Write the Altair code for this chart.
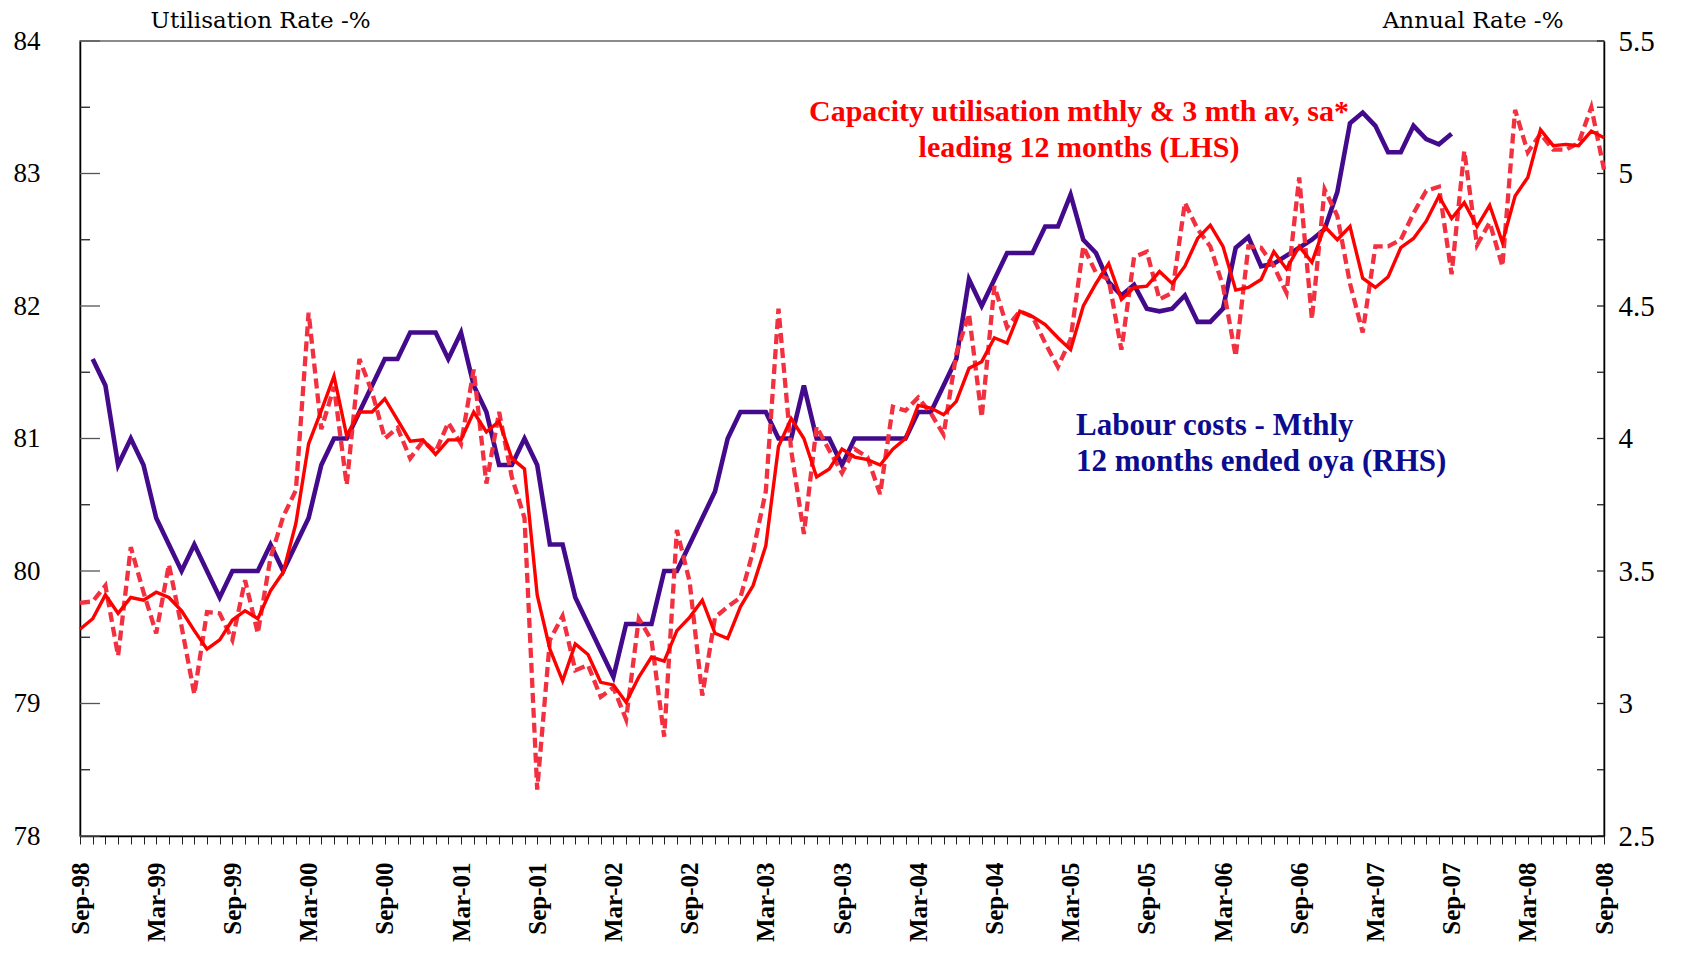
import altair as alt
import pandas as pd

# ---------------- data ----------------
months = [d.strftime("%b-%y") for d in pd.date_range("1998-09-01", "2008-09-01", freq="MS")]

# Capacity utilisation, monthly (dashed) Sep-98 .. Sep-08, LHS
cap_monthly = [
    79.76, 79.77, 79.89, 79.36,
    80.18, 79.84, 79.53, 80.05, 79.58, 79.07, 79.69, 79.68, 79.48, 79.93, 79.53, 80.10,
    80.41, 80.61, 81.95, 81.07, 81.39, 80.65, 81.60, 81.35, 81.00, 81.08, 80.85, 80.98,
    80.90, 81.12, 80.96, 81.52, 80.66, 81.20, 80.71, 80.40, 78.35, 79.48, 79.66, 79.25,
    79.29, 79.05, 79.12, 78.88, 79.64, 79.48, 78.75, 80.31, 79.92, 79.06, 79.65, 79.73,
    79.80, 80.15, 80.60, 81.98, 80.91, 80.28, 81.09, 80.91, 80.74, 80.92, 80.86, 80.58,
    81.24, 81.21, 81.31, 81.19, 81.03, 81.64, 81.94, 81.16, 82.15, 81.84, 81.96, 81.92,
    81.72, 81.54, 81.75, 82.45, 82.25, 82.20, 81.67, 82.37, 82.41, 82.05, 82.10, 82.78,
    82.58, 82.45, 82.15, 81.62, 82.45, 82.44, 82.30, 82.10, 82.97, 81.90, 82.88, 82.68,
    82.17, 81.80, 82.45, 82.45, 82.50, 82.70, 82.87, 82.90, 82.24, 83.17, 82.46, 82.63,
    82.30, 83.48, 83.16, 83.30, 83.18, 83.18, 83.23, 83.50, 83.03,
]

# Capacity utilisation, 3 month average (solid) Sep-98 .. Sep-08, LHS
cap_3mav = [
    79.56, 79.64, 79.82, 79.68,
    79.80, 79.78, 79.84, 79.80, 79.70, 79.55, 79.41, 79.48, 79.63, 79.70, 79.64, 79.85,
    79.99, 80.36, 80.96, 81.21, 81.47, 81.02, 81.20, 81.20, 81.30, 81.14, 80.98, 80.99,
    80.88, 80.99, 80.99, 81.20, 81.05, 81.13, 80.85, 80.77, 79.82, 79.41, 79.17, 79.45,
    79.37, 79.16, 79.14, 79.01, 79.20, 79.35, 79.32, 79.55, 79.65, 79.78, 79.53, 79.49,
    79.73, 79.89, 80.19, 80.94, 81.15, 81.00, 80.71, 80.77, 80.92, 80.86, 80.84, 80.80,
    80.92, 81.00, 81.25, 81.23, 81.18, 81.28, 81.53, 81.58, 81.76, 81.72, 81.96, 81.92,
    81.86, 81.76, 81.67, 82.00, 82.17, 82.32, 82.05, 82.14, 82.15, 82.26, 82.17, 82.30,
    82.51, 82.61, 82.45, 82.12, 82.14, 82.20, 82.41, 82.28, 82.45, 82.33, 82.60, 82.50,
    82.60, 82.21, 82.14, 82.22, 82.44, 82.51, 82.64, 82.83, 82.66, 82.78, 82.60, 82.76,
    82.48, 82.83, 82.97, 83.33, 83.21, 83.22, 83.21, 83.32, 83.27,
]

# Labour costs, 12 months ended oya, Oct-98 .. Sep-07, RHS
labour_costs = [
    4.3, 4.2, 3.9,
    4.0, 3.9, 3.7, 3.6, 3.5, 3.6, 3.5, 3.4, 3.5, 3.5, 3.5, 3.6,
    3.5, 3.6, 3.7, 3.9, 4.0, 4.0, 4.1, 4.2, 4.3, 4.3, 4.4, 4.4,
    4.4, 4.3, 4.4, 4.2, 4.1, 3.9, 3.9, 4.0, 3.9, 3.6, 3.6, 3.4,
    3.3, 3.2, 3.1, 3.3, 3.3, 3.3, 3.5, 3.5, 3.6, 3.7, 3.8, 4.0,
    4.1, 4.1, 4.1, 4.0, 4.0, 4.2, 4.0, 4.0, 3.9, 4.0, 4.0, 4.0,
    4.0, 4.0, 4.1, 4.1, 4.2, 4.3, 4.6, 4.5, 4.6, 4.7, 4.7, 4.7,
    4.8, 4.8, 4.92, 4.75, 4.70, 4.59, 4.54, 4.58, 4.49, 4.48, 4.49, 4.54,
    4.44, 4.44, 4.49, 4.72, 4.76, 4.65, 4.66, 4.69, 4.72, 4.75, 4.79, 4.93,
    5.19, 5.23, 5.18, 5.08, 5.08, 5.18, 5.13, 5.11, 5.15,
]
labour_months = months[1:1 + len(labour_costs)]

left_major = [78, 79, 80, 81, 82, 83, 84]
left_minor = [78.5, 79.5, 80.5, 81.5, 82.5, 83.5]
right_labels = [2.5, 3, 3.5, 4, 4.5, 5, 5.5]
right_ticks = [2.5, 2.75, 3, 3.25, 3.5, 3.75, 4, 4.25, 4.5, 4.75, 5, 5.25, 5.5]

cap_note = ["Capacity utilisation mthly & 3 mth av, sa*", "leading 12 months (LHS)"]
lab_note = ["Labour costs - Mthly", "12 months ended oya (RHS)"]
left_title = "Utilisation Rate -%"
right_title = "Annual Rate -%"

cap_df = pd.DataFrame({"month": months, "monthly": cap_monthly, "avg": cap_3mav})
lab_df = pd.DataFrame({"month": labour_months, "labour": labour_costs})
lmaj_df = pd.DataFrame({"v": left_major})
lmin_df = pd.DataFrame({"v": left_minor})
rt_df = pd.DataFrame({"v": right_ticks})
one = pd.DataFrame({"a": [0]})

# ---------------- layout / style ----------------
W, H = 1524, 795
SERIF = "Liberation Serif"
PURPLE = "#430b8b"
RED = "#ff0000"
RED_DASH = "#f23040"
NAVY = "#0c0c8e"

x_axis = alt.Axis(
    title=None, labelAngle=-90, labelFont=SERIF, labelFontSize=25, labelFontWeight="bold",
    labelColor="black", labelPadding=18, labelOverlap=False, labelAlign="right",
    labelBaseline="middle",
    labelExpr="(indexof(datum.label, 'Sep') == 0 || indexof(datum.label, 'Mar') == 0) ? datum.label : ''",
    ticks=True, tickSize=8, tickColor="#222", tickWidth=1, domainColor="black", domainWidth=1.5,
    grid=False,
)
x_enc = alt.X("month:N", sort=months,
              scale=alt.Scale(type="point", domain=months, padding=0), axis=x_axis)

lscale = alt.Scale(domain=[78, 84], nice=False, zero=False)
rscale = alt.Scale(domain=[2.5, 5.5], nice=False, zero=False)

l_axis = alt.Axis(
    orient="left", values=left_major, ticks=False, labelPadding=40, grid=False,
    domainColor="black", domainWidth=1.5, labelFont=SERIF, labelFontSize=27,
    labelColor="black", format="~g",
    title=left_title, titleAngle=0, titleAlign="left", titleBaseline="middle",
    titleX=70, titleY=-21, titleFont="DejaVu Serif", titleFontSize=23,
    titleFontWeight="normal", titleColor="black",
)
r_axis = alt.Axis(
    orient="right", values=right_labels, ticks=False, labelPadding=14, grid=False,
    domainColor="black", domainWidth=1.5, labelFont=SERIF, labelFontSize=29,
    labelColor="black", format="~g",
    title=right_title, titleAngle=0, titleAlign="right", titleBaseline="middle",
    titleX=-41, titleY=-21, titleFont="DejaVu Serif", titleFontSize=23,
    titleFontWeight="normal", titleColor="black",
)

# ---------------- left (LHS) layers ----------------
dashed = alt.Chart(cap_df).mark_line(
    color=RED_DASH, strokeWidth=4.3, strokeDash=[10, 5], strokeCap="butt"
).encode(x=x_enc, y=alt.Y("monthly:Q", scale=lscale, axis=l_axis))

solid = alt.Chart(cap_df).mark_line(color=RED, strokeWidth=3.4).encode(
    x=x_enc, y=alt.Y("avg:Q", scale=lscale, axis=l_axis))

lt_major = alt.Chart(lmaj_df).mark_rule(color="#555", strokeWidth=1.3).encode(
    y=alt.Y("v:Q", scale=lscale, axis=l_axis), x=alt.value(0), x2=alt.value(20))
lt_minor = alt.Chart(lmin_df).mark_rule(color="#222", strokeWidth=1.3).encode(
    y=alt.Y("v:Q", scale=lscale, axis=l_axis), x=alt.value(0), x2=alt.value(10))

left = alt.layer(lt_major, lt_minor, dashed, solid)

# ---------------- right (RHS) layers ----------------
purple = alt.Chart(lab_df).mark_line(color=PURPLE, strokeWidth=4.6).encode(
    x=x_enc, y=alt.Y("labour:Q", scale=rscale, axis=r_axis))
rt = alt.Chart(rt_df).mark_rule(color="#222", strokeWidth=1.3).encode(
    y=alt.Y("v:Q", scale=rscale, axis=r_axis), x=alt.value(W - 7), x2=alt.value(W))

right = alt.layer(rt, purple)

# ---------------- annotations ----------------
cap_text = alt.Chart(one).mark_text(
    font=SERIF, fontSize=30, fontWeight="bold", color=RED, align="center",
    baseline="middle", lineHeight=36,
).encode(x=alt.value(999), y=alt.value(71), text=alt.value(cap_note))

lab_text = alt.Chart(one).mark_text(
    font=SERIF, fontSize=31, fontWeight="bold", color=NAVY, align="left",
    baseline="middle", lineHeight=36,
).encode(x=alt.value(996), y=alt.value(385), text=alt.value(lab_note))

chart = alt.layer(right, left, cap_text, lab_text).resolve_scale(
    y="independent"
).properties(
    width=W, height=H,
    autosize=alt.AutoSizeParams(type="none"),
    padding={"left": 72, "top": 33, "right": 90, "bottom": 112},
    background="white",
).configure_view(stroke="#666", strokeWidth=1.5)

chart.save("out.html", embed_options={"renderer": "svg", "actions": False})
